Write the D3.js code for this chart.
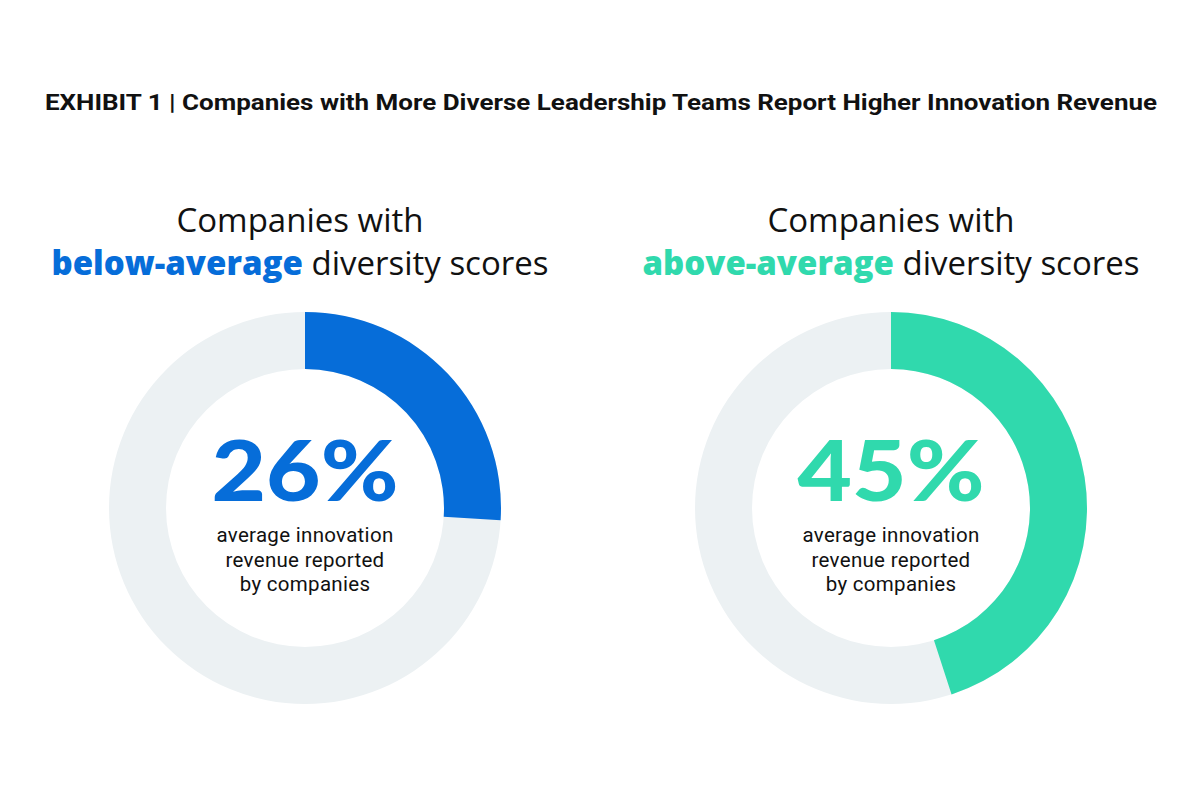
<!DOCTYPE html>
<html><head><meta charset="utf-8">
<script src="https://cdn.jsdelivr.net/npm/d3@7"></script>
<style>body{margin:0;background:#fff}svg{display:block}</style>
</head><body>
<script>
const title = "EXHIBIT 1 | Companies with More Diverse Leadership Teams Report Higher Innovation Revenue";
const groups = ["below-average", "above-average"];
const values = [26, 45];
const colors = ["#066dd9", "#30d9ad"];
const headLine1 = "Companies with";
const headSuffix = " diversity scores";
const captionLines = ["average innovation", "revenue reported", "by companies"];

const W = 1200, H = 800;
const svg = d3.select("body").append("svg").attr("width", W).attr("height", H);
svg.append("rect").attr("width", W).attr("height", H).attr("fill", "#fff");

svg.append("text").attr("x", 601).attr("y", 110).attr("text-anchor", "middle")
  .attr("font-family", "'Liberation Sans Narrow', Roboto, sans-serif").attr("font-weight", 700).attr("font-size", 22.5)
  .attr("fill", "#111").attr("textLength", 1112).attr("lengthAdjust", "spacingAndGlyphs").text(title);

const x = d3.scalePoint().domain(groups).range([305, 891]);
const angle = d3.scaleLinear().domain([0, 100]).range([0, 2 * Math.PI]);
const cy = 508, R = 196, r = 139;
const arc = d3.arc().innerRadius(r).outerRadius(R);

groups.forEach((g, i) => {
  const cx = x(g);
  const hx = cx - (i === 0 ? 5 : 0);
  const gg = svg.append("g").attr("transform", `translate(${cx},${cy})`);
  gg.append("path").attr("d", arc({startAngle: 0, endAngle: 2 * Math.PI})).attr("fill", "#ecf1f3");
  gg.append("path").attr("d", arc({startAngle: 0, endAngle: angle(values[i])})).attr("fill", colors[i]);

  const head = svg.append("text").attr("text-anchor", "middle")
    .attr("font-family", "'Open Sans', sans-serif").attr("font-size", 33).attr("fill", "#111");
  head.append("tspan").attr("x", hx).attr("y", 232).text(headLine1);
  const l2 = head.append("tspan").attr("x", hx).attr("y", 275);
  l2.append("tspan").attr("font-weight", 800).attr("fill", colors[i]).text(g);
  l2.append("tspan").text(headSuffix);

  gg.append("text").attr("x", 0).attr("y", -7).attr("text-anchor", "middle")
    .attr("font-family", "Lato, sans-serif").attr("font-weight", 900).attr("font-size", 84)
    .attr("textLength", 187).attr("lengthAdjust", "spacingAndGlyphs")
    .attr("fill", colors[i]).text(values[i] + "%");
  const cap = gg.append("text").attr("text-anchor", "middle")
    .attr("font-family", "Roboto, sans-serif").attr("font-size", 20.5).attr("letter-spacing", 0.3).attr("fill", "#111");
  captionLines.forEach((l, j) => {
    cap.append("tspan").attr("x", 0).attr("y", 34 + j * 24.6).text(l);
  });
});
</script>
</body></html>
